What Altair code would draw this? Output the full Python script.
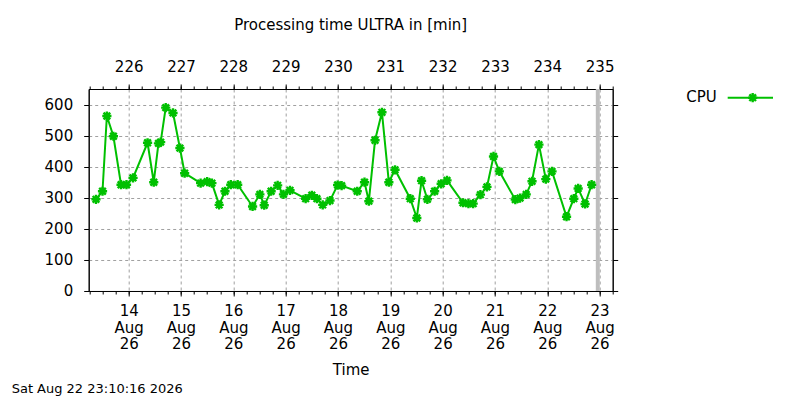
import altair as alt
import pandas as pd

# CPU processing time samples (UTC timestamps, minutes)
times = [
    "2026-08-13T09:00", "2026-08-13T12:00", "2026-08-13T14:00", "2026-08-13T17:00",
    "2026-08-13T20:30", "2026-08-13T23:00", "2026-08-14T02:00", "2026-08-14T08:40",
    "2026-08-14T11:30", "2026-08-14T13:40", "2026-08-14T14:40", "2026-08-14T17:00",
    "2026-08-14T20:20", "2026-08-14T23:30", "2026-08-15T01:40", "2026-08-15T09:00",
    "2026-08-15T12:00", "2026-08-15T14:10", "2026-08-15T17:30", "2026-08-15T20:10",
    "2026-08-15T22:50", "2026-08-16T02:00", "2026-08-16T08:50", "2026-08-16T12:10",
    "2026-08-16T14:10", "2026-08-16T17:20", "2026-08-16T20:20", "2026-08-16T23:00",
    "2026-08-17T02:00", "2026-08-17T09:10", "2026-08-17T12:00", "2026-08-17T14:20",
    "2026-08-17T17:00", "2026-08-17T20:20", "2026-08-17T23:50", "2026-08-18T01:40",
    "2026-08-18T08:50", "2026-08-18T12:10", "2026-08-18T14:10", "2026-08-18T17:00",
    "2026-08-18T20:10", "2026-08-18T23:20", "2026-08-19T02:10", "2026-08-19T09:10",
    "2026-08-19T12:10", "2026-08-19T14:20", "2026-08-19T17:00", "2026-08-19T20:20",
    "2026-08-19T23:20", "2026-08-20T02:00", "2026-08-20T09:20", "2026-08-20T11:50",
    "2026-08-20T14:00", "2026-08-20T17:20", "2026-08-20T20:20", "2026-08-20T23:20",
    "2026-08-21T02:00", "2026-08-21T09:20", "2026-08-21T11:30", "2026-08-21T14:20",
    "2026-08-21T17:00", "2026-08-21T20:10", "2026-08-21T23:20", "2026-08-22T02:10",
    "2026-08-22T08:50", "2026-08-22T12:10", "2026-08-22T14:10", "2026-08-22T17:20",
    "2026-08-22T20:20",
]
cpu = [
    295, 321, 563, 498, 342, 342, 364, 477,
    350, 475, 479, 590, 573, 460, 379, 347,
    352, 347, 277, 321, 342, 342, 272, 311,
    276, 321, 340, 311, 324, 297, 308, 297,
    277, 291, 341, 339, 321, 350, 289, 485,
    575, 350, 390, 297, 235, 355, 295, 321,
    345, 356, 284, 281, 281, 310, 335, 433,
    385, 294, 299, 311, 353, 471, 360, 385,
    239, 297, 330, 280, 342,
]

now = "2026-08-22T23:10:16Z"
now_label = "Sat Aug 22 23:10:16 2026"
x_range = ["2026-08-13T05:40:00Z", "2026-08-23T06:00:00Z"]
day_ticks = list(range(14, 24))
y_ticks = [0, 100, 200, 300, 400, 500, 600]

GREEN = "#00c000"
FONT = "DejaVu Sans"
ASTERISK = "M-1,0L1,0M0,-1L0,1M-0.72,-0.72L0.72,0.72M-0.72,0.72L0.72,-0.72"

df = pd.DataFrame({"Time": [t + ":00Z" for t in times], "CPU": cpu})
now_df = pd.DataFrame({"Time": [now]})
label_df = pd.DataFrame({"txt": [now_label], "name": ["CPU"]})

major = [alt.DateTime(year=2026, month=8, date=d, utc=True) for d in day_ticks]
minor = [
    alt.DateTime(year=2026, month=8, date=d, hours=h, utc=True)
    for d in range(13, 24) for h in (0, 6, 12, 18)
]

x_scale = alt.Scale(type="utc", domain=x_range)
y_scale = alt.Scale(domain=[0, 650], nice=False, zero=True)

common = dict(labelFont=FONT, labelFontSize=15, labelColor="black",
              tickColor="black", domainColor="black", labelOverlap=False,
              labelFlush=False)

bottom_axis = alt.Axis(
    orient="bottom", values=major, title="Time", titleFont=FONT,
    titleFontSize=15, titleFontWeight="normal", titlePadding=11,
    labelExpr="[utcFormat(datum.value, '%d'), utcFormat(datum.value, '%b'), utcFormat(datum.value, '%y')]",
    labelLineHeight=16.5, labelPadding=8, tickSize=5,
    grid=True, gridColor="#a0a0a0", gridDash=[3, 3], **common,
)
top_axis = alt.Axis(
    orient="top", values=major, title=None,
    labelExpr="utcFormat(datum.value, '%j')",
    labelPadding=10, tickSize=5, grid=False, **common,
)
bottom_minor = alt.Axis(orient="bottom", values=minor, title=None, labels=False,
                        tickSize=3, grid=False, domain=False, tickColor="black")
top_minor = alt.Axis(orient="top", values=minor, title=None, labels=False,
                     tickSize=3, grid=False, domain=False, tickColor="black")
left_axis = alt.Axis(
    orient="left", values=y_ticks, title=None, labelPadding=11, tickSize=5,
    grid=True, gridColor="#a0a0a0", gridDash=[3, 3], **common,
)
right_axis = alt.Axis(orient="right", values=y_ticks, title=None, labels=False,
                      tickSize=5, grid=False, tickColor="black", domainColor="black")

now_band = (
    alt.Chart(now_df)
    .mark_rule(color="#bebebe", strokeWidth=4)
    .encode(x=alt.X("Time:T", scale=x_scale, axis=top_axis))
)

line = (
    alt.Chart(df)
    .mark_line(color=GREEN, strokeWidth=2)
    .encode(
        x=alt.X("Time:T", scale=x_scale, axis=bottom_axis),
        y=alt.Y("CPU:Q", scale=y_scale, axis=left_axis),
    )
)

points = (
    alt.Chart(df)
    .mark_point(shape=ASTERISK, color=GREEN, filled=False, strokeWidth=2.4,
                size=85, opacity=1)
    .encode(
        x=alt.X("Time:T", scale=x_scale, axis=None),
        y=alt.Y("CPU:Q", scale=y_scale, axis=None),
    )
)

# invisible layers that only carry the minor ticks and the right axis
ticks_bottom = (
    alt.Chart(df)
    .mark_point(opacity=0)
    .encode(
        x=alt.X("Time:T", scale=x_scale, axis=bottom_minor),
        y=alt.Y("CPU:Q", scale=y_scale, axis=right_axis),
    )
)
ticks_top = (
    alt.Chart(df)
    .mark_point(opacity=0)
    .encode(
        x=alt.X("Time:T", scale=x_scale, axis=top_minor),
        y=alt.Y("CPU:Q", scale=y_scale, axis=None),
    )
)

# key, drawn gnuplot-style with the label left of the sample
key_text = alt.Chart(label_df).mark_text(
    align="right", baseline="middle", font=FONT, fontSize=15, color="black"
).encode(text="name:N", x=alt.value(628), y=alt.value(8))
key_line = alt.Chart(label_df).mark_rule(color=GREEN, strokeWidth=2).encode(
    x=alt.value(639), x2=alt.value(689), y=alt.value(8.7)
)
key_point = alt.Chart(label_df).mark_point(
    shape=ASTERISK, color=GREEN, filled=False, strokeWidth=2.4, size=85, opacity=1
).encode(x=alt.value(664), y=alt.value(8.7))

footer = alt.Chart(label_df).mark_text(
    align="left", baseline="middle", font=FONT, fontSize=13, color="black"
).encode(text="txt:N", x=alt.value(-77), y=alt.value(300.5))

chart = (
    alt.layer(now_band, line, points, ticks_bottom, ticks_top,
              key_text, key_line, key_point, footer)
    .resolve_axis(x="independent", y="independent")
    .properties(
        width=524,
        height=202,
        title=alt.TitleParams(
            "Processing time ULTRA in [min]", font=FONT, fontSize=15,
            fontWeight="normal", color="black", anchor="middle",
            frame="group", offset=26,
        ),
        autosize=alt.AutoSizeParams(type="none"),
        padding={"left": 80.7, "top": 81, "right": 160, "bottom": 107},
        background="white",
    )
    .configure_view(stroke="black", strokeWidth=1)
)

chart.save("out.html", embed_options={"renderer": "svg", "actions": False})
